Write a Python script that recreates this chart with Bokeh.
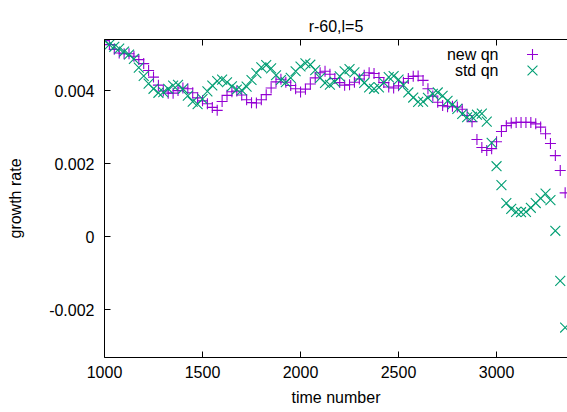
from bokeh.plotting import figure
from bokeh.models import Range1d, LinearAxis, FixedTicker, Label, CustomJSTickFormatter
from bokeh.embed import file_html
from bokeh.resources import INLINE

# ---- data ----
time_number = [
    1000, 1025, 1050, 1075, 1100, 1125, 1150, 1175, 1200, 1225,
    1250, 1275, 1300, 1325, 1350, 1375, 1400, 1425, 1450, 1475,
    1500, 1525, 1550, 1575, 1600, 1625, 1650, 1675, 1700, 1725,
    1750, 1775, 1800, 1825, 1850, 1875, 1900, 1925, 1950, 1975,
    2000, 2025, 2050, 2075, 2100, 2125, 2150, 2175, 2200, 2225,
    2250, 2275, 2300, 2325, 2350, 2375, 2400, 2425, 2450, 2475,
    2500, 2525, 2550, 2575, 2600, 2625, 2650, 2675, 2700, 2725,
    2750, 2775, 2800, 2825, 2850, 2875, 2900, 2925, 2950, 2975,
    3000, 3025, 3050, 3075, 3100, 3125, 3150, 3175, 3200, 3225,
    3250, 3275, 3300, 3325, 3350,
]

new_qn = [
    0.00537, 0.00526, 0.00513, 0.00503, 0.00501, 0.00501, 0.00494, 0.00485, 0.00474, 0.00455,
    0.00437, 0.00415, 0.00399, 0.00393, 0.00393, 0.00400, 0.00407, 0.00405, 0.00394, 0.00380,
    0.00372, 0.00364, 0.00354, 0.00346, 0.00370, 0.00387, 0.00397, 0.00399, 0.00388, 0.00375,
    0.00367, 0.00366, 0.00375, 0.00389, 0.00407, 0.00424, 0.00431, 0.00423, 0.00414, 0.00405,
    0.00396, 0.00404, 0.00418, 0.00435, 0.00449, 0.00453, 0.00445, 0.00433, 0.00422, 0.00415,
    0.00416, 0.00423, 0.00432, 0.00442, 0.00449, 0.00447, 0.00436, 0.00422, 0.00410, 0.00407,
    0.00413, 0.00423, 0.00433, 0.00439, 0.00440, 0.00428, 0.00405, 0.00385, 0.00368, 0.00359,
    0.00356, 0.00357, 0.00355, 0.00349, 0.00332, 0.00315, 0.00266, 0.00244, 0.00236, 0.00241,
    0.00260, 0.00288, 0.00304, 0.00311, 0.00313, 0.00313, 0.00313, 0.00313, 0.00309, 0.00300,
    0.00282, 0.00255, 0.00222, 0.00181, 0.00120,
]

std_qn = [
    0.00537, 0.00526, 0.00520, 0.00515, 0.00507, 0.00499, 0.00487, 0.00463, 0.00440, 0.00419,
    0.00405, 0.00394, 0.00396, 0.00405, 0.00414, 0.00416, 0.00405, 0.00386, 0.00370, 0.00363,
    0.00377, 0.00398, 0.00414, 0.00426, 0.00430, 0.00423, 0.00412, 0.00403, 0.00401, 0.00411,
    0.00429, 0.00448, 0.00464, 0.00470, 0.00461, 0.00442, 0.00429, 0.00423, 0.00435, 0.00453,
    0.00466, 0.00475, 0.00471, 0.00456, 0.00435, 0.00421, 0.00416, 0.00424, 0.00439, 0.00453,
    0.00459, 0.00450, 0.00437, 0.00421, 0.00409, 0.00405, 0.00409, 0.00422, 0.00437, 0.00440,
    0.00430, 0.00415, 0.00395, 0.00381, 0.00369, 0.00370, 0.00380, 0.00391, 0.00395, 0.00386,
    0.00372, 0.00362, 0.00350, 0.00336, 0.00327, 0.00328, 0.00334, 0.00337, 0.00315, 0.00257,
    0.00193, 0.00141, 0.00092, 0.00076, 0.00068, 0.00067, 0.00068, 0.00079, 0.00092, 0.00105,
    0.00118, 0.00100, 0.00016, -0.00121, -0.00249,
]

x_ticks = [1000, 1500, 2000, 2500, 3000]
y_ticks = [-0.002, 0, 0.002, 0.004]
series_names = ["new qn", "std qn"]
series_colors = ["#9400D3", "#009E73"]

FONT = "Liberation Sans"
FS = "16px"
X0, X1 = 1000, 3362
Y0, Y1 = -0.00331, 0.00540
PLUS_SIZE = 11
X_SIZE = 14

p = figure(width=567, height=412, output_backend="svg", toolbar_location=None,
           x_range=Range1d(X0, X1), y_range=Range1d(Y0, Y1),
           x_axis_location=None, y_axis_location=None,
           min_border_left=104, min_border_right=0, min_border_top=39,
           min_border_bottom=55)
p.outline_line_color = None
p.background_fill_color = "white"
p.border_fill_color = "white"
p.grid.visible = False

p.title.text = "r-60,l=5"
p.title.align = "center"
p.title.text_font = FONT
p.title.text_font_size = FS
p.title.text_font_style = "normal"
p.title.text_color = "black"


def style_axis(ax):
    ax.major_tick_in = 6
    ax.major_tick_out = 0
    ax.minor_tick_line_color = None
    ax.axis_line_color = "black"
    ax.major_tick_line_color = "black"
    ax.major_label_text_font = FONT
    ax.major_label_text_font_size = FS
    ax.major_label_text_color = "black"
    ax.axis_label_text_font = FONT
    ax.axis_label_text_font_size = FS
    ax.axis_label_text_font_style = "normal"
    ax.axis_label_text_color = "black"


xa = LinearAxis(ticker=FixedTicker(ticks=x_ticks), axis_label="time number")
style_axis(xa)
xa.major_label_standoff = 8
xa.axis_label_standoff = 8
p.add_layout(xa, "below")

ya = LinearAxis(ticker=FixedTicker(ticks=y_ticks), axis_label="growth rate",
                formatter=CustomJSTickFormatter(code="return tick == 0 ? '0' : tick.toFixed(3);"))
style_axis(ya)
ya.major_label_standoff = 10
ya.axis_label_standoff = 22
p.add_layout(ya, "left")

ta = LinearAxis(ticker=FixedTicker(ticks=x_ticks),
                formatter=CustomJSTickFormatter(code="return '';"))
style_axis(ta)
ta.major_label_standoff = 0
p.add_layout(ta, "above")

p.scatter(time_number, new_qn, marker="cross", size=PLUS_SIZE,
          line_color=series_colors[0], line_width=1.1)
p.scatter(time_number, std_qn, marker="x", size=X_SIZE,
          line_color=series_colors[1], line_width=1.1)

# legend (gnuplot style: text right-aligned, key to its right)
frame_w, frame_h = 463, 318
key_fx = (532 - 104) / frame_w
for i, (name, col, mk, sz) in enumerate(zip(series_names, series_colors,
                                             ["cross", "x"], [PLUS_SIZE, X_SIZE])):
    sy = frame_h - 15 - 16 * i
    p.add_layout(Label(x=394, y=sy, x_units="screen", y_units="screen", text=name,
                       text_align="right", text_baseline="middle",
                       text_font=FONT, text_font_size=FS, text_color="black"))
    kx = X0 + key_fx * (X1 - X0)
    ky = Y0 + (sy / frame_h) * (Y1 - Y0)
    p.scatter([kx], [ky], marker=mk, size=sz, line_color=col, line_width=1.1)

open("out.html", "w").write(file_html(p, INLINE))
